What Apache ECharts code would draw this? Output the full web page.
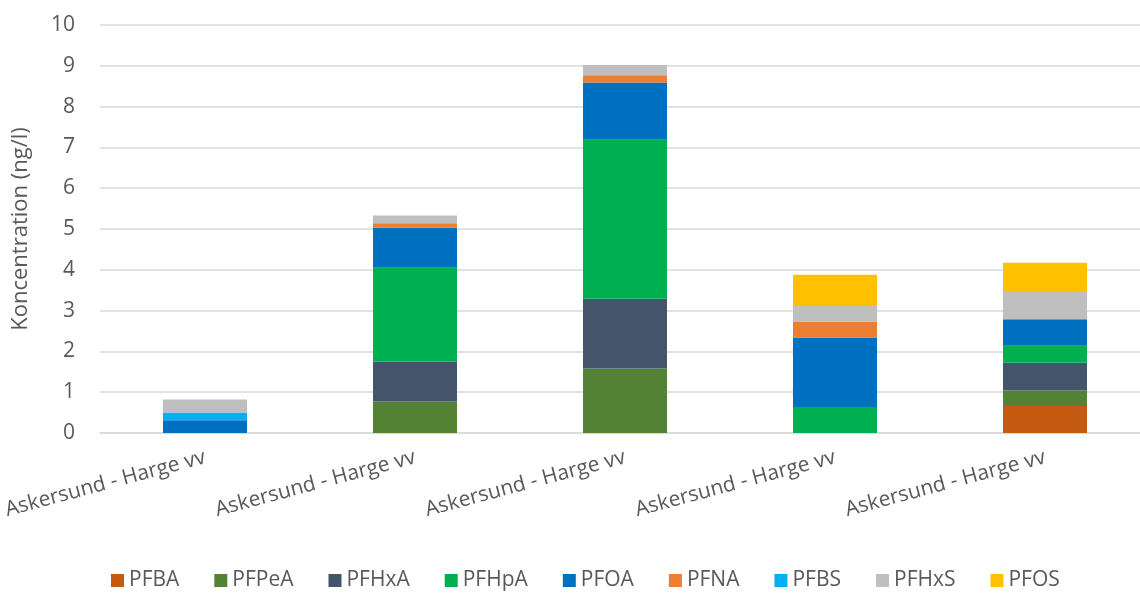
<!DOCTYPE html>
<html>
<head>
<meta charset="utf-8">
<script src="https://cdn.jsdelivr.net/npm/echarts@6/dist/echarts.min.js"></script>
<style>
  html, body { margin: 0; padding: 0; background: #fff; overflow: hidden; }
  #chart { width: 1150px; height: 593px; }
</style>
</head>
<body>
<div id="chart"></div>
<script>
// Sampling sites (same site, five sampling occasions)
const categories = [
  'Askersund - Harge vv',
  'Askersund - Harge vv',
  'Askersund - Harge vv',
  'Askersund - Harge vv',
  'Askersund - Harge vv'
];

// PFAS concentrations, ng/l (null = not detected)
const PFBA  = [null, null, null, null, 0.66];
const PFPeA = [null, 0.77, 1.58, null, 0.38];
const PFHxA = [null, 0.98, 1.71, null, 0.68];
const PFHpA = [null, 2.30, 3.90, 0.64, 0.42];
const PFOA  = [0.31, 0.98, 1.40, 1.70, 0.65];
const PFNA  = [null, 0.11, 0.18, 0.39, null];
const PFBS  = [0.19, null, null, null, null];
const PFHxS = [0.32, 0.19, 0.25, 0.38, 0.69];
const PFOS  = [null, null, null, 0.77, 0.69];

const seriesDefs = [
  { name: 'PFBA',  data: PFBA,  color: '#c55a11' },
  { name: 'PFPeA', data: PFPeA, color: '#548235' },
  { name: 'PFHxA', data: PFHxA, color: '#44546a' },
  { name: 'PFHpA', data: PFHpA, color: '#00b050' },
  { name: 'PFOA',  data: PFOA,  color: '#0070c0' },
  { name: 'PFNA',  data: PFNA,  color: '#ed7d31' },
  { name: 'PFBS',  data: PFBS,  color: '#00b0f0' },
  { name: 'PFHxS', data: PFHxS, color: '#bfbfbf' },
  { name: 'PFOS',  data: PFOS,  color: '#ffc000' }
];

const FONT = '"Open Sans", Lato, sans-serif';
const TEXT = '#595959';

const chart = echarts.init(document.getElementById('chart'), null, { renderer: 'canvas' });
chart.setOption({
  animation: false,
  textStyle: { fontFamily: FONT },
  grid: { left: 100, top: 25, right: 0, height: 408, containLabel: false },
  legend: {
    bottom: -3,
    left: 106,
    itemWidth: 13,
    itemHeight: 13,
    itemGap: 35,
    icon: 'rect',
    textStyle: { color: TEXT, fontSize: 21, fontFamily: FONT },
    data: seriesDefs.map(s => s.name)
  },
  xAxis: {
    type: 'category',
    data: categories,
    axisLine: { lineStyle: { color: '#d9d9d9', width: 1.5 } },
    axisTick: { show: false },
    axisLabel: {
      color: TEXT,
      fontSize: 21,
      fontFamily: FONT,
      rotate: 15,
      margin: 24,
      interval: 0
    }
  },
  yAxis: {
    type: 'value',
    min: 0,
    max: 10,
    interval: 1,
    name: 'Koncentration (ng/l)',
    nameLocation: 'middle',
    nameGap: 68,
    nameTextStyle: { color: TEXT, fontSize: 22, fontFamily: FONT },
    axisLine: { show: false },
    axisTick: { show: false },
    axisLabel: { color: TEXT, fontSize: 21, fontFamily: FONT, margin: 25 },
    splitLine: { lineStyle: { color: '#d9d9d9', width: 1.5 } }
  },
  series: seriesDefs.map(s => ({
    name: s.name,
    type: 'bar',
    stack: 'total',
    barWidth: '40%',
    data: s.data,
    itemStyle: { color: s.color }
  }))
});
</script>
</body>
</html>
